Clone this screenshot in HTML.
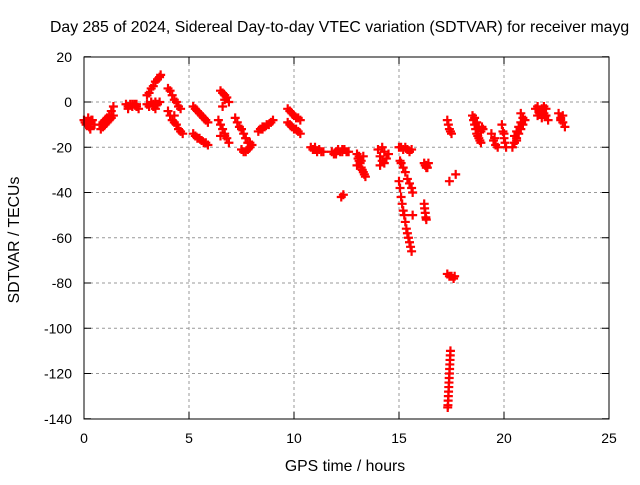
<!DOCTYPE html>
<html><head><meta charset="utf-8"><style>
body{margin:0;background:#fff;}
svg text{font-family:"Liberation Sans",sans-serif;font-size:14px;fill:#000;}
svg text.big{font-size:15.8px;}
</style></head><body>
<svg id="chart" width="640" height="480" xmlns="http://www.w3.org/2000/svg">
<text class="big" x="50" y="32">Day 285 of 2024, Sidereal Day-to-day VTEC variation (SDTVAR) for receiver mayg</text>
<g id="grid"></g>
<g id="ticks"></g>
<g id="pts"></g>
<rect x="84" y="57" width="525" height="362" fill="none" stroke="#000" stroke-width="1"/>
<text class="big" x="345" y="471" text-anchor="middle">GPS time / hours</text>
<text class="big" transform="translate(19,240) rotate(-90)" text-anchor="middle">SDTVAR / TECUs</text>
</svg>
<script>
const xTicks=[0,5,10,15,20,25];
const yTicks=[20,0,-20,-40,-60,-80,-100,-120,-140];
const times=[0,0.05,0.1,0.15,0.2,0.25,0.3,0.35,0.4,0.5,0.2,0.3,
0.8,0.9,1.0,1.1,1.2,1.3,1.4,0.8,0.9,1.0,1.1,1.2,1.3,1.4,
2.0,2.1,2.2,2.3,2.4,2.5,2.6,2.1,2.3,2.5,
3.0,3.1,3.2,3.3,3.4,3.5,3.6,3.65,3.0,3.1,3.2,3.3,3.4,3.5,3.6,3.3,3.4,
4.0,4.1,4.2,4.3,4.4,4.5,4.6,4.0,4.1,4.2,4.3,4.4,4.5,4.6,4.7,4.3,
5.2,5.3,5.4,5.5,5.6,5.7,5.8,5.9,5.2,5.3,5.4,5.5,5.6,5.7,5.8,5.9,
6.5,6.6,6.7,6.8,6.9,6.6,6.7,6.4,6.5,6.6,6.7,6.8,6.9,6.5,6.7,
7.2,7.3,7.4,7.5,7.6,7.7,7.8,7.5,7.6,7.7,7.8,7.9,8.0,7.7,7.9,
8.3,8.4,8.5,8.6,8.7,8.8,8.9,9.0,8.5,
9.7,9.8,9.9,10.0,10.1,10.2,10.3,9.7,9.8,9.9,10.0,10.1,10.2,10.3,
10.8,10.9,11.0,11.1,11.2,11.3,11.4,11.0,
11.8,11.9,12.0,12.1,12.2,12.3,12.4,12.5,12.6,12.0,12.3,12.25,12.35,
13.0,13.05,13.1,13.15,13.2,13.25,13.3,13.35,13.4,13.1,13.2,13.0,13.3,
14.0,14.1,14.2,14.3,14.4,14.5,14.1,14.3,14.2,
15.0,15.1,15.2,15.3,15.4,15.5,15.6,15.05,15.1,15.2,15.3,15.4,15.5,15.6,15.65,
15.0,15.05,15.1,15.15,15.2,15.25,15.3,15.35,15.4,15.45,15.5,15.55,15.6,15.65,
16.2,16.25,16.3,16.35,16.4,16.3,16.2,16.22,16.25,16.28,16.3,
17.3,17.35,17.4,17.45,17.5,17.3,17.4,17.5,17.6,17.65,
17.45,17.44,17.43,17.42,17.41,17.4,17.39,17.38,17.37,17.36,17.35,17.34,17.33,17.32,17.4,17.7,
18.5,18.55,18.6,18.65,18.7,18.75,18.8,18.85,18.9,18.95,19.0,18.6,18.7,18.8,18.9,
19.4,19.5,19.6,19.7,19.55,
19.9,19.95,20.0,20.05,20.1,20.0,
20.4,20.5,20.6,20.7,20.8,20.9,21.0,20.5,20.6,20.7,20.8,20.9,20.6,20.8,
21.5,21.6,21.7,21.8,21.9,22.0,22.1,21.6,21.8,22.0,21.7,21.9,
22.6,22.7,22.8,22.9,22.7,22.8];
const values=[-8,-9,-10,-9,-9,-11,-10,-8,-8,-10,-7,-12,
-10,-9,-8,-7,-6,-4,-2,-12,-11,-10,-9,-8,-7,-6,
-1,-2,-1,-2,-1,-2,-3,-3,-1,-1,
3,4,6,7,9,10,11,12,-1,-2,0,-1,0,-1,0,-2,-3,
6,5,3,1,0,-2,-3,-4,-6,-8,-9,-10,-12,-13,-14,-6,
-2,-3,-4,-5,-6,-7,-8,-9,-14,-15,-16,-16,-17,-18,-18,-19,
5,4,3,2,0,-2,1,-8,-10,-12,-14,-16,-18,-15,-15,
-7,-9,-11,-12,-14,-16,-18,-21,-22,-22,-21,-20,-19,-16,-18,
-13,-12,-12,-11,-10,-10,-9,-8,-11,
-3,-4,-5,-6,-7,-7,-8,-9,-10,-11,-12,-12,-13,-14,
-20,-21,-21,-22,-21,-22,-22,-20,
-22,-23,-22,-21,-22,-22,-21,-22,-22,-23,-21,-42,-41,
-23,-25,-26,-27,-29,-30,-31,-32,-33,-24,-26,-28,-24,
-21,-24,-26,-27,-25,-23,-28,-22,-20,
-20,-20,-21,-20,-21,-22,-21,-26,-27,-29,-31,-34,-36,-38,-40,
-35,-38,-42,-45,-48,-50,-53,-56,-58,-60,-62,-64,-66,-50,
-27,-28,-28,-29,-27,-29,-45,-47,-49,-51,-52,
-8,-10,-12,-13,-14,-76,-77,-77,-78,-77,
-110,-112,-114,-116,-118,-120,-122,-124,-126,-128,-130,-132,-134,-135,-35,-32,
-6,-8,-10,-12,-14,-15,-16,-17,-18,-11,-12,-7,-9,-11,-13,
-14,-17,-19,-20,-16,
-10,-13,-16,-18,-20,-14,
-20,-18,-16,-14,-12,-10,-8,-15,-13,-11,-9,-7,-17,-5,
-3,-2,-4,-3,-5,-6,-8,-6,-7,-3,-5,-2,
-5,-7,-9,-11,-8,-6];
const X=t=>84+t*21;
const Y=v=>102-v*2.2625;
const NS="http://www.w3.org/2000/svg";
const grid=document.getElementById('grid'),ticks=document.getElementById('ticks'),pts=document.getElementById('pts');
function mk(tag,attrs,parent){const e=document.createElementNS(NS,tag);for(const k in attrs)e.setAttribute(k,attrs[k]);parent.appendChild(e);return e;}
xTicks.forEach(t=>{
  const x=X(t);
  if(t>0&&t<25){const g=mk('line',{x1:x,x2:x,y1:57,y2:419,stroke:'#999','stroke-dasharray':'3,3'},grid);
  
  }
  const a=mk('line',{x1:x,x2:x,y1:419,y2:412,stroke:'#000'},ticks);
  
  
  const b=mk('line',{x1:x,x2:x,y1:57,y2:64,stroke:'#000'},ticks);
  
  
  const l=mk('text',{x:x,y:443,'text-anchor':'middle'},ticks);l.textContent=t;
  
  
});
yTicks.forEach(v=>{
  const y=Y(v);
  if(v<20&&v>-140){const g=mk('line',{x1:84,x2:609,y1:y,y2:y,stroke:'#999','stroke-dasharray':'3,3'},grid);
  
  }
  const a=mk('line',{x1:84,x2:91,y1:y,y2:y,stroke:'#000'},ticks);
  
  
  const b=mk('line',{x1:602,x2:609,y1:y,y2:y,stroke:'#000'},ticks);
  
  
  const l=mk('text',{x:72,y:y+5,'text-anchor':'end'},ticks);l.textContent=v;
  
  
});
times.forEach((t,i)=>{
  const x=X(t),y=Y(values[i]);
  const p=mk('path',{d:`M${x-4.5},${y}h9M${x},${y-4.5}v9`,stroke:'#f00','stroke-width':2.2,fill:'none'},pts);
  
  
});
</script>
</body></html>
